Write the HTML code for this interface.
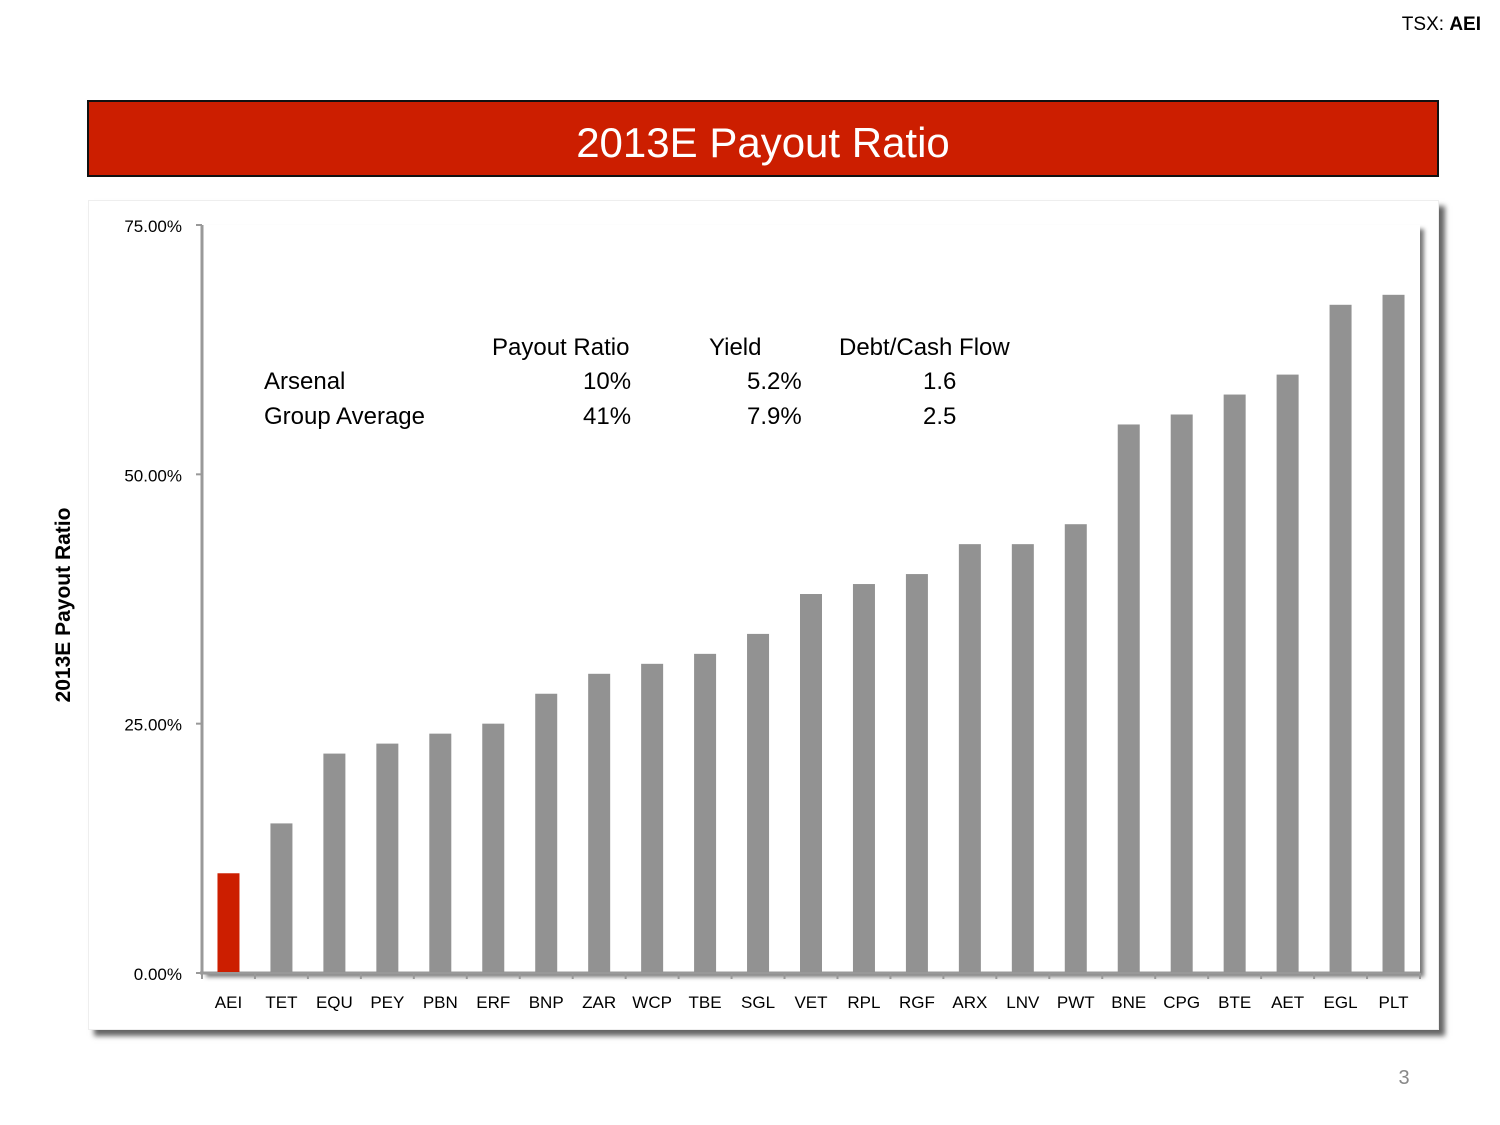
<!DOCTYPE html>
<html><head><meta charset="utf-8"><style>
body{margin:0;width:1500px;height:1125px;background:#fff;position:relative;overflow:hidden;font-family:"Liberation Sans",sans-serif}
.t{position:absolute;font-size:24px;color:#000;white-space:nowrap}
</style></head><body>
<div style="position:absolute;right:19px;top:14px;font-size:19px">TSX: <b>AEI</b></div>
<div style="position:absolute;left:87px;top:100px;width:1348px;height:73px;background:#cc1e00;border:2px solid #111;color:#fff;font-size:42px;text-align:center;line-height:82px">2013E Payout Ratio</div>
<div style="position:absolute;left:88px;top:200px;width:1349px;height:828px;background:#fff;box-shadow:6px 6px 5px #666;border:1px solid #eee"></div>
<svg width="1500" height="1125" style="position:absolute;left:0;top:0">
<defs><filter id="sh"><feDropShadow dx="4" dy="4" stdDeviation="2" flood-color="#777"/></filter></defs>
<g id="g"></g>
<text transform="translate(70,605) rotate(-90)" text-anchor="middle" font-size="21" font-weight="bold" font-family="Liberation Sans,sans-serif">2013E Payout Ratio</text>
<text x="1404" y="1084" text-anchor="middle" font-size="20" fill="#888">3</text>
</svg>
<div>
<div class="t" style="left:492px;top:334px">Payout Ratio</div>
<div class="t" style="left:709px;top:334px">Yield</div>
<div class="t" style="left:839px;top:334px">Debt/Cash Flow</div>
<div class="t" style="left:264px;top:368px">Arsenal</div>
<div class="t" style="left:583px;top:368px">10%</div>
<div class="t" style="left:747px;top:368px">5.2%</div>
<div class="t" style="left:923px;top:368px">1.6</div>
<div class="t" style="left:264px;top:403px">Group Average</div>
<div class="t" style="left:583px;top:403px">41%</div>
<div class="t" style="left:747px;top:403px">7.9%</div>
<div class="t" style="left:923px;top:403px">2.5</div>
</div>
<script>
const categories=["AEI","TET","EQU","PEY","PBN","ERF","BNP","ZAR","WCP","TBE","SGL","VET","RPL","RGF","ARX","LNV","PWT","BNE","CPG","BTE","AET","EGL","PLT"];
const values=[10,15,22,23,24,25,28,30,31,32,34,38,39,40,43,43,45,55,56,58,60,67,68];
const ticks=[0,25,50,75];
const tickLabels=["0.00%","25.00%","50.00%","75.00%"];
const NS="http://www.w3.org/2000/svg";
const g=document.getElementById('g');
const x0=202,x1=1420,y0=973,yTop=225;
const band=(x1-x0)/categories.length;
const y=v=>y0-(v/75)*(y0-yTop);
const xc=i=>x0+band*(i+0.5);
function mk(t,a){const e=document.createElementNS(NS,t);for(const k in a)e.setAttribute(k,a[k]);g.appendChild(e);return e;}
const pa=mk('rect',{x:x0,y:yTop,width:x1-x0,height:y0-yTop,fill:'#fff',filter:'url(#sh)'});


const ax=mk('line',{x1:x0-2,y1:y(0),x2:x1,y2:y(0),stroke:'#999','stroke-width':3});


const ay=mk('line',{x1:x0,y1:yTop,x2:x0,y2:y0,stroke:'#999','stroke-width':3});


ticks.forEach((t,i)=>{
 const l=mk('line',{x1:x0-6,y1:y(t),x2:x0,y2:y(t),stroke:'#999','stroke-width':2});
 
 
 const tx=mk('text',{x:182,y:y(t)+7,'text-anchor':'end','font-size':17});
 tx.textContent=tickLabels[i];
 
 
});
for(let i=0;i<=categories.length;i++){
 const l=mk('line',{x1:x0+band*i,y1:y0,x2:x0+band*i,y2:y0+6,stroke:'#999','stroke-width':2});
 
 
}
categories.forEach((c,i)=>{
 const r=mk('rect',{x:xc(i)-11,y:y(values[i]),width:22,height:y0-y(values[i])-1,fill:i===0?'#cc1e00':'#929292'});
 
 
 const t=mk('text',{x:xc(i),y:1008,'text-anchor':'middle','font-size':17});
 t.textContent=c;
 
 
});
</script>
</body></html>
